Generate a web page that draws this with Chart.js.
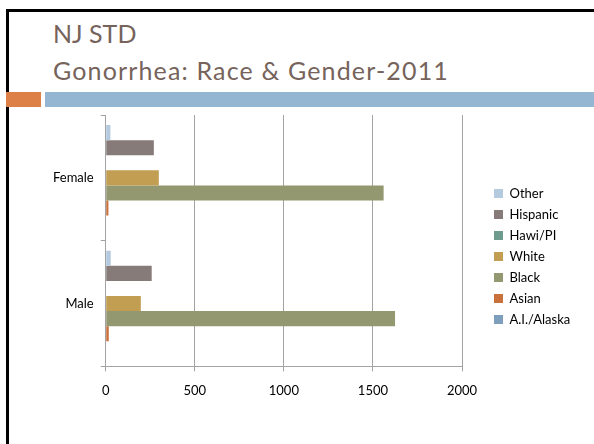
<!DOCTYPE html>
<html>
<head>
<meta charset="utf-8">
<script src="https://cdn.jsdelivr.net/npm/chart.js@4.4.1/dist/chart.umd.min.js"></script>
<style>
  html, body { margin: 0; padding: 0; background: #fff; }
  body { width: 594px; height: 444px; position: relative; overflow: hidden; font-family: Lato, sans-serif; }
  #frame { position: absolute; left: 6px; top: 9px; width: 700px; height: 600px; border: 3px solid #000; box-sizing: border-box; }
  .title { position: absolute; left: 53px; color: #76635b; font-size: 25px; white-space: nowrap; line-height: 1; }
  #t1 { top: 21px; }
  #t2 { top: 58px; letter-spacing: 1.15px; }
  #orange { position: absolute; left: 6px; top: 92px; width: 35px; height: 15px; background: #dd8047; }
  #blue { position: absolute; left: 45px; top: 92px; width: 549px; height: 15px; background: #94b6d2; }
  #myChart { position: absolute; left: 0; top: 0; }
</style>
</head>
<body>
<div id="frame"></div>
<div class="title" id="t1">NJ STD</div>
<div class="title" id="t2">Gonorrhea: Race &amp; Gender-2011</div>
<div id="orange"></div>
<div id="blue"></div>
<canvas id="myChart" width="594" height="444"></canvas>
<script>
  // categories (top to bottom) and one series per race
  var genders = ["Female", "Male"];
  var races = ["Other", "Hispanic", "Hawi/PI", "White", "Black", "Asian", "A.I./Alaska"];
  var other = [26, 28];
  var hispanic = [270, 258];
  var hawiPI = [0, 0];
  var white = [298, 197];
  var black = [1560, 1624];
  var asian = [15, 17];
  var aiAlaska = [0, 0];
  var xTicks = [0, 500, 1000, 1500, 2000];

  var colors = ['#b4cbdf', '#867b78', '#6f9a8e', '#c19e52', '#949871', '#c9703b', '#7d9fbd'];
  var series = [other, hispanic, hawiPI, white, black, asian, aiAlaska];

  var datasets = races.map(function (name, i) {
    return {
      label: name,
      data: series[i],
      backgroundColor: colors[i],
      borderWidth: 0,
      categoryPercentage: 0.84,
      barPercentage: 1.0
    };
  });

  var ctx = document.getElementById('myChart').getContext('2d');
  var chart = new Chart(ctx, {
    type: 'bar',
    data: { labels: genders, datasets: datasets },
    options: {
      indexAxis: 'y',
      responsive: false,
      devicePixelRatio: 1,
      animation: false,
      layout: { padding: { top: 115, bottom: 33, left: 46, right: 20 } },
      plugins: {
        tooltip: { enabled: false },
        legend: {
          position: 'right',
          align: 'center',
          fullSize: false,
          title: { display: true, text: '', font: { size: 13 }, padding: { top: 0, bottom: 16 } },
          labels: {
            boxWidth: 9,
            boxHeight: 9,
            padding: 8,
            color: '#000',
            font: { family: 'Lato', size: 13 }
          }
        }
      },
      scales: {
        x: {
          min: 0,
          max: 2000,
          afterBuildTicks: function (s) { s.ticks = xTicks.map(function (v) { return { value: v }; }); },
          grid: { color: '#a3a3a3', lineWidth: 1, tickLength: 5, drawTicks: true },
          border: { color: '#a3a3a3' },
          ticks: {
            color: '#000', padding: 12, font: { family: 'Lato', size: 13 },
            callback: function (v) { return String(v); }
          }
        },
        y: {
          grid: { drawOnChartArea: false, color: '#a3a3a3', tickLength: 5 },
          border: { color: '#a3a3a3' },
          ticks: { color: '#000', padding: 7, font: { family: 'Lato', size: 13 } }
        },
        y2: {
          position: 'right',
          type: 'linear',
          grid: { display: false },
          border: { display: false },
          ticks: { display: false },
          afterFit: function (s) { s.width = 24; }
        }
      }
    }
  });
</script>
</body>
</html>
